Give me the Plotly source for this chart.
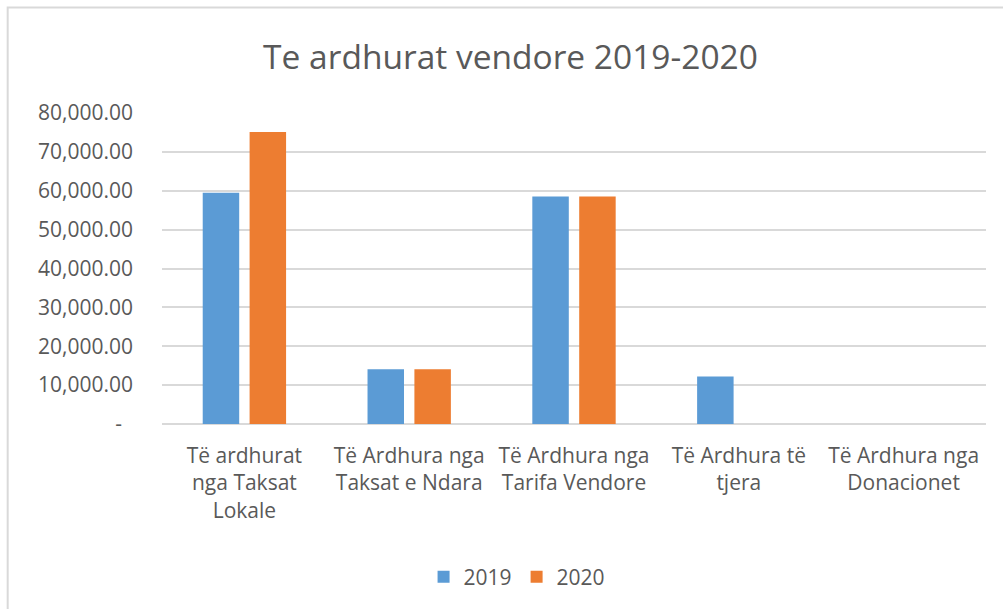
import plotly.graph_objects as go

categories = [
    "Të ardhurat<br>nga Taksat<br>Lokale",
    "Të Ardhura nga<br>Taksat e Ndara",
    "Të Ardhura nga<br>Tarifa Vendore",
    "Të Ardhura të<br>tjera",
    "Të Ardhura nga<br>Donacionet",
]
values_2019 = [59500, 14100, 58500, 12200, 0]
values_2020 = [75100, 14100, 58500, 0, 0]
series_names = ["2019", "2020"]
tick_vals = [0, 10000, 20000, 30000, 40000, 50000, 60000, 70000, 80000]
tick_text = ["-\u00a0\u00a0", "10,000.00", "20,000.00", "30,000.00", "40,000.00",
             "50,000.00", "60,000.00", "70,000.00", "80,000.00"]
title_text = "Te ardhurat vendore 2019-2020"

W, H = 1003, 609
L, R, T, B = 161.5, 16.5, 113.3, 185
pw, ph = W - L - R, H - T - B

FONT = "Open Sans"
TXT = "#595959"

fig = go.Figure()
fig.add_trace(go.Bar(x=categories, y=values_2019, name=series_names[0],
                     marker=dict(color="#5B9BD5", line=dict(width=0))))
fig.add_trace(go.Bar(x=categories, y=values_2020, name=series_names[1],
                     marker=dict(color="#ED7D31", line=dict(width=0))))

def px_x(x):
    return (x - L) / pw

def px_y(y):
    return (H - B - y) / ph

fig.update_layout(
    width=W, height=H,
    margin=dict(l=L, r=R, t=T, b=B, pad=0),
    paper_bgcolor="white", plot_bgcolor="white",
    font=dict(family=FONT, color=TXT, size=21),
    title=dict(text=title_text, font=dict(family=FONT, size=33.5, color=TXT),
               x=510.5 / W, xref="container", xanchor="center",
               y=1 - 57 / H, yref="container", yanchor="middle"),
    barmode="group", bargap=0.431, bargroupgap=0.222,
    showlegend=True,
    legend=dict(orientation="h", x=0.5 - (574 - 517) / pw, xanchor="center",
                y=(424 - 577) / ph, yanchor="middle",
                font=dict(family=FONT, size=21, color=TXT),
                itemwidth=30, traceorder="normal"),
    xaxis=dict(showgrid=False, showline=False, ticks="", zeroline=False,
               tickfont=dict(family=FONT, size=21, color=TXT),
               ticklabelstandoff=17),
    yaxis=dict(range=[0, 80000], tickvals=tick_vals, ticktext=tick_text,
               showgrid=True, gridcolor="#D9D9D9", gridwidth=1.5,
               zeroline=True, zerolinecolor="#D9D9D9", zerolinewidth=1.5,
               showline=False, ticks="",
               tickfont=dict(family=FONT, size=21, color=TXT),
               ticklabelstandoff=28),
    shapes=[dict(type="rect", xref="paper", yref="paper",
                 x0=px_x(7), x1=px_x(1010), y0=px_y(8), y1=px_y(620),
                 line=dict(color="#D9D9D9", width=2), fillcolor="rgba(0,0,0,0)",
                 layer="below")],
)

fig.write_html("out.html")
